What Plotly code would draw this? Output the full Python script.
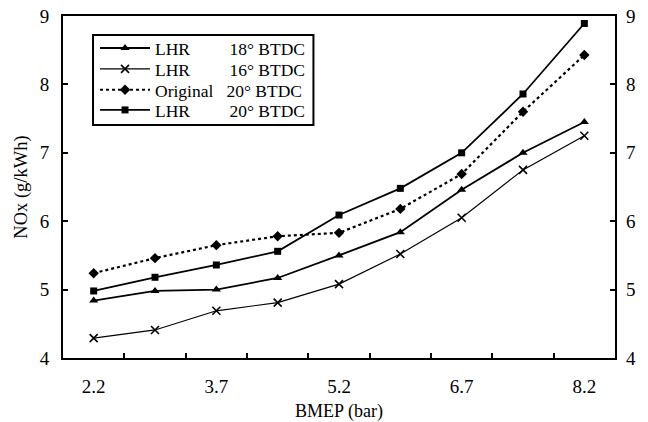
import plotly.graph_objects as go

# Data
bmep = [2.2, 2.95, 3.7, 4.45, 5.2, 5.95, 6.7, 7.45, 8.2]
lhr_18 = [4.84, 4.98, 5.00, 5.17, 5.50, 5.84, 6.46, 7.00, 7.45]
lhr_16 = [4.29, 4.41, 4.69, 4.81, 5.08, 5.52, 6.05, 6.75, 7.25]
original_20 = [5.24, 5.46, 5.65, 5.78, 5.83, 6.18, 6.69, 7.60, 8.43]
lhr_20 = [4.98, 5.18, 5.36, 5.56, 6.09, 6.48, 7.00, 7.86, 8.89]

x_tick_labels = [2.2, 3.7, 5.2, 6.7, 8.2]
y_ticks = [4, 5, 6, 7, 8, 9]

FONT = "Liberation Serif"
NB = "\u00a0"

step = bmep[1] - bmep[0]
x_range = [bmep[0] - step / 2, bmep[-1] + step / 2]
x_minor = [(a + b) / 2 for a, b in zip(bmep[:-1], bmep[1:])]

fig = go.Figure()

# (name, values, dash, width, symbol, size, marker line, legend id, legend y)
series = [
    ("LHR" + NB * 9 + "18° BTDC", lhr_18, "solid", 1.8, "triangle-up", 8, None, "legend", 0.906),
    ("LHR" + NB * 9 + "16° BTDC", lhr_16, "solid", 1.2, "x-thin", 8, 1.6, "legend2", 0.845),
    ("Original" + NB * 3 + "20° BTDC", original_20, "dot", 2.2, "diamond", 8, None, "legend3", 0.784),
    ("LHR" + NB * 9 + "20° BTDC", lhr_20, "solid", 1.8, "square", 7, None, "legend4", 0.725),
]
legend_layouts = {}
for name, vals, dash, lw, sym, ms, mlw, lg, ly in series:
    marker = dict(symbol=sym, size=ms, color="black")
    if mlw:
        marker["line"] = dict(width=mlw, color="black")
    fig.add_trace(go.Scatter(
        x=bmep, y=vals, name=name, mode="lines+markers",
        line=dict(color="black", width=lw, dash=dash), marker=marker,
        xaxis="x", yaxis="y", legend=lg,
    ))
    legend_layouts[lg] = dict(
        x=0.058, y=ly, xanchor="left", yanchor="middle",
        bgcolor="rgba(0,0,0,0)", borderwidth=0,
        font=dict(family=FONT, size=17.5, color="black"), itemwidth=50,
        valign="middle",
    )

# invisible helper traces so the label axes render
fig.add_trace(go.Scatter(x=bmep, y=lhr_20, xaxis="x2", yaxis="y",
                         showlegend=False, hoverinfo="skip", mode="lines",
                         line=dict(width=0), opacity=0))
fig.add_trace(go.Scatter(x=bmep, y=lhr_20, xaxis="x", yaxis="y2",
                         showlegend=False, hoverinfo="skip", mode="lines",
                         line=dict(width=0), opacity=0))

TICKFONT = dict(family=FONT, size=19, color="black")

fig.update_layout(
    width=648, height=422,
    margin=dict(l=63, r=33, t=16, b=64, autoexpand=False),
    paper_bgcolor="white", plot_bgcolor="white",
    font=dict(family=FONT, size=15, color="black"),
    xaxis=dict(
        range=x_range, tickmode="array",
        tickvals=x_minor, ticks="inside", ticklen=5,
        tickwidth=1.5, tickcolor="black", showticklabels=False,
        showline=True, linecolor="black", linewidth=2, mirror=True,
        showgrid=False, zeroline=False, automargin=False,
    ),
    xaxis2=dict(
        overlaying="x", side="bottom", range=x_range,
        tickmode="array", tickvals=x_tick_labels,
        ticktext=[f"{v:.1f}" for v in x_tick_labels],
        ticks="", showline=False, showgrid=False, zeroline=False,
        tickfont=TICKFONT, automargin=False, ticklabelstandoff=15,
        title=dict(text="BMEP (bar)", font=dict(family=FONT, size=18), standoff=9),
    ),
    yaxis=dict(
        range=[4, 9], tickmode="array", tickvals=y_ticks,
        ticks="inside", ticklen=5, tickwidth=1.5, tickcolor="black",
        showline=True, linecolor="black", linewidth=2, mirror=True,
        showgrid=False, zeroline=False, tickfont=TICKFONT, automargin=False,
        ticklabelstandoff=8,
        title=dict(text="NOx (g/kWh)", font=dict(family=FONT, size=18.5), standoff=7),
    ),
    yaxis2=dict(
        overlaying="y", side="right", range=[4, 9], tickmode="array",
        tickvals=y_ticks, ticks="inside", ticklen=5, tickwidth=1.5,
        tickcolor="black", showline=False, showgrid=False, zeroline=False,
        tickfont=TICKFONT, automargin=False, ticklabelstandoff=10,
    ),
    shapes=[dict(
        type="rect", xref="paper", yref="paper",
        x0=0.0544, x1=0.4537, y0=0.6813, y1=0.9444,
        line=dict(color="black", width=2), fillcolor="white", layer="above",
    )],
    showlegend=True,
    **legend_layouts,
)

fig.write_html("out.html", config={"displayModeBar": False},
               post_script="document.body.style.margin='0';")
